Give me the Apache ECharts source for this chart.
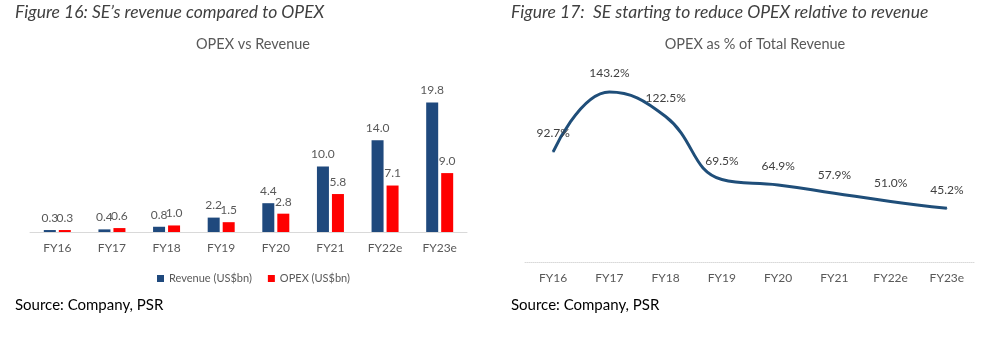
<!DOCTYPE html>
<html><head><meta charset="utf-8">
<script src="https://cdn.jsdelivr.net/npm/echarts@6/dist/echarts.min.js"></script>
<style>html,body{margin:0;padding:0;background:#fff}#c{width:996px;height:340px}</style>
</head><body><div id="c"></div>
<script>
const categories = ['FY16','FY17','FY18','FY19','FY20','FY21','FY22e','FY23e'];
const revenue = [0.3,0.4,0.8,2.2,4.4,10.0,14.0,19.8];
const opex = [0.3,0.6,1.0,1.5,2.8,5.8,7.1,9.0];
const opexPct = [92.7,143.2,122.5,69.5,64.9,57.9,51.0,45.2];

const FONT = 'Lato, "Open Sans", sans-serif';
const chart = echarts.init(document.getElementById('c'), null, {renderer:'canvas'});
chart.setOption({
  animation:false,
  backgroundColor:'#fff',
  textStyle:{fontFamily:FONT},
  title:[
    {text:'OPEX vs Revenue', left:248, top:32, textAlign:'center',
     textStyle:{fontSize:14.5, fontWeight:'normal', color:'#595959', fontFamily:FONT}},
    {text:'OPEX as % of Total Revenue', left:750, top:32, textAlign:'center',
     textStyle:{fontSize:14.5, fontWeight:'normal', color:'#595959', fontFamily:FONT}}
  ],
  graphic:[
    {type:'text', left:15, top:3, style:{text:'Figure 16: SE\u2019s revenue compared to OPEX', font:'italic 17.5px '+FONT, fill:'#404040'}},
    {type:'text', left:511, top:3, style:{text:'Figure 17:  SE starting to reduce OPEX relative to revenue', font:'italic 17.5px '+FONT, fill:'#404040'}},
    {type:'text', left:15, top:298, style:{text:'Source: Company, PSR', font:'15px '+FONT, fill:'#000'}},
    {type:'text', left:511, top:298, style:{text:'Source: Company, PSR', font:'15px '+FONT, fill:'#000'}}
  ],
  legend:{
    data:['Revenue (US$bn)','OPEX (US$bn)'], left:152, top:268,
    itemWidth:7, itemHeight:7, itemGap:16, icon:'rect',
    textStyle:{fontSize:11, color:'#595959', fontFamily:FONT}
  },
  grid:[
    {left:30, top:88, width:437, height:144},
    {left:525, top:72, width:450, height:190}
  ],
  xAxis:[
    {type:'category', gridIndex:0, data:categories,
     axisLine:{lineStyle:{color:'#D9D9D9'}}, axisTick:{show:false},
     axisLabel:{color:'#595959', fontSize:12, margin:10, fontFamily:FONT}},
    {type:'category', gridIndex:1, data:categories,
     axisLine:{lineStyle:{color:'#D9D9D9', type:'dotted'}}, axisTick:{show:false},
     axisLabel:{color:'#595959', fontSize:12, margin:10, fontFamily:FONT}}
  ],
  yAxis:[
    {type:'value', gridIndex:0, min:0, max:22, show:false, splitLine:{show:false}},
    {type:'value', gridIndex:1, min:0, max:160, show:false, splitLine:{show:false}}
  ],
  series:[
    {name:'Revenue (US$bn)', type:'bar', xAxisIndex:0, yAxisIndex:0, data:revenue,
     barWidth:12, barGap:'25%', itemStyle:{color:'#1F497D'},
     label:{show:true, position:'top', distance:6, color:'#595959', fontSize:12, fontFamily:FONT,
            formatter:p=>p.value.toFixed(1)}},
    {name:'OPEX (US$bn)', type:'bar', xAxisIndex:0, yAxisIndex:0, data:opex,
     barWidth:12, barGap:'25%', itemStyle:{color:'#FF0000'},
     label:{show:true, position:'top', distance:6, color:'#595959', fontSize:12, fontFamily:FONT,
            formatter:p=>p.value.toFixed(1)}},
    {name:'OPEX %', type:'line', xAxisIndex:1, yAxisIndex:1, data:opexPct, smooth:0.45,
     symbol:'circle', symbolSize:1, showSymbol:true, itemStyle:{color:'#1F4E79'},
     lineStyle:{color:'#1F4E79', width:3},
     label:{show:true, position:'top', distance:12, color:'#404040', fontSize:12, fontFamily:FONT,
            formatter:p=>p.value.toFixed(1)+'%'}}
  ]
});
</script></body></html>
